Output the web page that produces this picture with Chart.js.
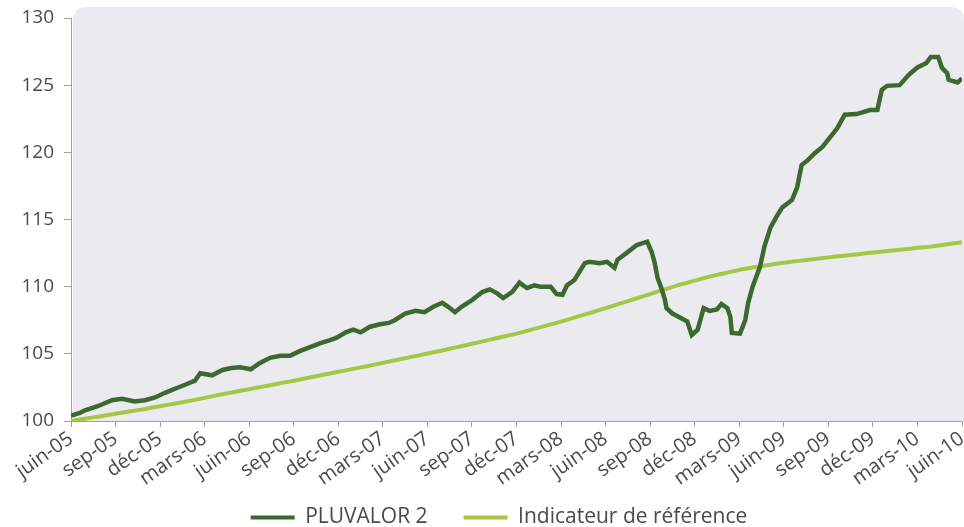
<!DOCTYPE html>
<html>
<head>
<meta charset="utf-8">
<script src="https://cdn.jsdelivr.net/npm/chart.js@4.4.1/dist/chart.umd.min.js"></script>
<style>
  html, body { margin: 0; padding: 0; background: #ffffff; }
  #wrap { width: 964px; height: 527px; position: relative; }
</style>
</head>
<body>
<div id="wrap"><canvas id="c" width="964" height="527"></canvas></div>
<script>
// Tick labels (every 3 months, juin-05 .. juin-10)
const tickLabels = ['juin-05','sep-05','déc-05','mars-06','juin-06','sep-06','déc-06','mars-07','juin-07','sep-07','déc-07','mars-08','juin-08','sep-08','déc-08','mars-09','juin-09','sep-09','déc-09','mars-10','juin-10'];

// PLUVALOR 2 : position in months since juin-05, and value
const pluvalorMonths = [0,0.6,0.94,1.8,2.76,3.43,4.3,4.98,5.66,6.33,7.0,7.68,8.35,8.7,9.5,10.2,10.8,11.4,12.1,12.7,13.4,14.1,14.75,15.4,16.1,16.8,17.4,17.9,18.5,19.0,19.5,20.1,20.8,21.4,21.8,22.5,23.2,23.8,24.4,25.0,25.4,25.86,26.3,27.0,27.7,28.2,28.7,29.1,29.7,30.2,30.7,31.2,31.6,32.3,32.7,33.1,33.4,33.9,34.6,34.9,35.6,36.1,36.6,36.8,37.4,38.1,38.8,39.1,39.3,39.5,39.8,40.0,40.1,40.5,41.0,41.5,41.8,42.2,42.6,43.0,43.5,43.8,44.2,44.4,44.5,45.05,45.4,45.6,45.9,46.4,46.7,47.1,47.5,47.9,48.55,48.9,49.2,49.6,50.1,50.6,51.1,51.6,52.1,52.9,53.8,54.3,54.6,54.95,55.8,56.4,56.97,57.6,57.9,58.4,58.65,59.0,59.1,59.7,60.0];
const pluvalorValues = [100.4,100.6,100.8,101.1,101.55,101.65,101.45,101.55,101.75,102.1,102.4,102.7,103.0,103.55,103.4,103.8,103.95,104.0,103.85,104.3,104.7,104.85,104.85,105.2,105.5,105.8,106.0,106.2,106.6,106.8,106.6,107.0,107.2,107.3,107.5,108.0,108.2,108.1,108.5,108.8,108.5,108.1,108.5,109.0,109.6,109.8,109.5,109.15,109.6,110.3,109.9,110.1,110.0,110.0,109.45,109.4,110.1,110.5,111.75,111.85,111.75,111.85,111.4,112.0,112.5,113.1,113.35,112.6,111.8,110.65,109.75,109.0,108.4,108.0,107.7,107.4,106.4,106.8,108.4,108.2,108.3,108.7,108.4,107.75,106.55,106.5,107.5,108.8,110.0,111.5,113.0,114.4,115.2,115.9,116.45,117.4,119.05,119.4,119.95,120.4,121.1,121.8,122.8,122.85,123.15,123.15,124.65,124.95,125.0,125.75,126.3,126.65,127.1,127.1,126.3,125.9,125.4,125.2,125.5];

// Indicateur de référence : monthly values, month 0 .. 60
const referenceValues = [100.0,100.18,100.36,100.54,100.72,100.9,101.1,101.3,101.5,101.72,101.95,102.16,102.37,102.58,102.79,103.0,103.22,103.44,103.66,103.88,104.1,104.33,104.56,104.79,105.02,105.25,105.5,105.75,106.0,106.25,106.5,106.8,107.1,107.4,107.73,108.06,108.4,108.75,109.1,109.45,109.8,110.15,110.45,110.75,111.0,111.25,111.45,111.62,111.78,111.92,112.05,112.18,112.3,112.42,112.54,112.65,112.77,112.89,113.0,113.15,113.3];

const seriesNames = ['PLUVALOR 2', 'Indicateur de référence'];
const yTicks = [100,105,110,115,120,125,130];

const darkGreen = '#3b6a2f';
const lightGreen = '#a8c646';
const textColor = '#4a4a4a';
const axisColor = '#a0a0a0';

const legendPadding = 36;

const bgPlugin = {
  id: 'bgPanel',
  afterLayout(chart) {
    const lg = chart.legend;
    if (lg) {
      const h = lg.bottom - lg.top;
      lg.top = 515 - legendPadding - 8;
      lg.bottom = lg.top + h;
      lg.left += 18; lg.right += 18;
    }
  },
  beforeDraw(chart) {
    const {ctx, chartArea: a} = chart;
    ctx.save();
    ctx.fillStyle = '#ebebef';
    const x = a.left + 2, y = a.top - 11, w = a.right - a.left, h = a.bottom - y;
    const r = 14;
    ctx.beginPath();
    ctx.moveTo(x + r, y);
    ctx.lineTo(x + w - r, y);
    ctx.quadraticCurveTo(x + w, y, x + w, y + r);
    ctx.lineTo(x + w, y + h);
    ctx.lineTo(x, y + h);
    ctx.lineTo(x, y + r);
    ctx.quadraticCurveTo(x, y, x + r, y);
    ctx.closePath();
    ctx.fill();
    ctx.restore();
  }
};

new Chart(document.getElementById('c'), {
  type: 'line',
  data: {
    datasets: [
      {
        label: seriesNames[0],
        data: pluvalorMonths.map((m, i) => ({x: m, y: pluvalorValues[i]})),
        borderColor: darkGreen,
        backgroundColor: darkGreen,
        borderWidth: 4.5,
        pointRadius: 0,
        tension: 0,
        borderJoinStyle: 'miter'
      },
      {
        label: seriesNames[1],
        data: referenceValues.map((v, i) => ({x: i, y: v})),
        borderColor: lightGreen,
        backgroundColor: lightGreen,
        borderWidth: 4,
        pointRadius: 0,
        tension: 0.3
      }
    ]
  },
  options: {
    responsive: false,
    animation: false,
    events: [],
    layout: { padding: { left: 0, right: 2, top: 18, bottom: -(legendPadding - 4) } },
    plugins: {
      tooltip: { enabled: false },
      legend: {
        position: 'bottom',
        labels: {
          color: textColor,
          font: { family: 'Open Sans', size: 21 },
          boxWidth: 44,
          boxHeight: 4,
          padding: legendPadding,
          generateLabels(chart) {
            return chart.data.datasets.map((d, i) => ({
              text: d.label,
              fillStyle: d.borderColor,
              strokeStyle: d.borderColor,
              lineWidth: 0,
              fontColor: textColor,
              datasetIndex: i,
              hidden: false
            }));
          }
        }
      }
    },
    scales: {
      x: {
        type: 'linear',
        min: 0,
        max: 60,
        afterBuildTicks(scale) {
          scale.ticks = tickLabels.map((_, i) => ({value: i * 3}));
        },
        afterFit(scale) { scale.height = 71; scale.paddingRight = 0; scale.paddingLeft = 0; },
        ticks: {
          color: textColor,
          font: { family: 'Open Sans', size: 20 },
          minRotation: 35,
          maxRotation: 35,
          autoSkip: false,
          padding: 0,
          callback: (v) => tickLabels[Math.round(v / 3)]
        },
        grid: { display: true, drawOnChartArea: false, color: axisColor, tickLength: 6 },
        border: { display: true, color: axisColor, width: 1 }
      },
      y: {
        min: 100,
        max: 130,
        afterBuildTicks(scale) {
          scale.ticks = yTicks.map(v => ({value: v}));
        },
        afterFit(scale) { scale.width = 71; scale.paddingTop = 0; scale.paddingBottom = 0; },
        ticks: {
          color: textColor,
          font: { family: 'Open Sans', size: 19 },
          padding: 10
        },
        grid: { display: true, drawOnChartArea: false, color: axisColor, tickLength: 7 },
        border: { display: true, color: axisColor, width: 1 }
      }
    }
  },
  plugins: [bgPlugin]
});
</script>
</body>
</html>
